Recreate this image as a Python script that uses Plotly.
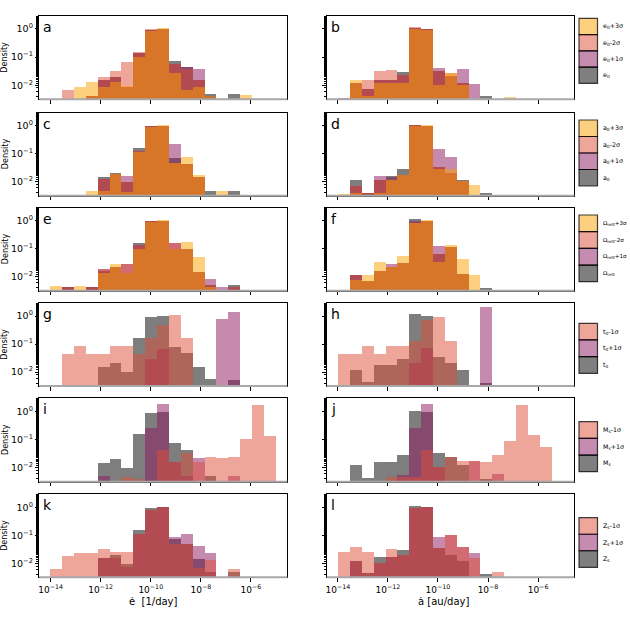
import numpy as np
import plotly.graph_objects as go

# log10 bin edges shared by every histogram
bin_edges = np.linspace(-14, -5, 20)

# densities per bin, one list per series (0 = empty bin)
a_e0 = [0, 0, 0, 0.004, 0.015, 0.02, 0.009, 0.14, 0.95, 1.0, 0.073, 0.046, 0.015, 0.0048, 0, 0.0049, 0, 0, 0]
a_e0_p1 = [0, 0, 0, 0.004, 0.015, 0.02, 0.009, 0.14, 0.95, 1.0, 0.057, 0.046, 0.039, 0.004, 0, 0, 0, 0, 0]
a_e0_m2 = [0, 0.0068, 0, 0.004, 0.019, 0.033, 0.066, 0.158, 1.0, 1.0, 0.057, 0.037, 0.0155, 0, 0, 0, 0, 0, 0]
a_e0_p3 = [0, 0, 0.0087, 0.0135, 0.0085, 0.0135, 0.0094, 0.104, 0.85, 1.05, 0.028, 0.007, 0.009, 0.004, 0, 0, 0.0045, 0, 0]

b_e0 = [0, 0.0125, 0.0074, 0.015, 0.0155, 0.029, 1.1, 1.0, 0.032, 0.021, 0.0117, 0, 0.0042, 0, 0, 0, 0, 0, 0]
b_e0_p1 = [0.0036, 0.0125, 0.0074, 0.015, 0.0155, 0.023, 1.1, 1.0, 0.04, 0.021, 0.037, 0.011, 0, 0, 0, 0, 0, 0, 0]
b_e0_m2 = [0, 0.0125, 0.0153, 0.031, 0.036, 0.023, 1.15, 1.0, 0.032, 0.027, 0.0117, 0, 0, 0, 0, 0, 0, 0, 0]
b_e0_p3 = [0, 0.015, 0.004, 0.012, 0.012, 0.012, 1.0, 0.95, 0.01, 0.027, 0.01, 0, 0, 0, 0.0038, 0, 0, 0, 0]

c_a0 = [0, 0, 0, 0, 0.0147, 0.021, 0.0097, 0.158, 1.0, 1.0, 0.073, 0.044, 0.0148, 0.0049, 0, 0.0049, 0, 0, 0]
c_a0_p1 = [0, 0, 0, 0, 0.0128, 0.0194, 0.017, 0.126, 1.0, 1.0, 0.225, 0.044, 0.0148, 0, 0, 0, 0, 0, 0]
c_a0_m2 = [0, 0, 0, 0, 0.0128, 0.0194, 0.0097, 0.126, 1.0, 1.0, 0.047, 0.044, 0.0148, 0, 0, 0, 0, 0, 0]
c_a0_p3 = [0, 0, 0, 0.0046, 0.0049, 0.0194, 0.0043, 0.12, 0.92, 1.05, 0.047, 0.077, 0.018, 0, 0.0049, 0, 0, 0, 0]

d_a0 = [0, 0.0118, 0.004, 0.0115, 0.016, 0.028, 1.05, 1.0, 0.034, 0.021, 0.012, 0, 0.004, 0, 0, 0, 0, 0, 0]
d_a0_p1 = [0, 0.007, 0.004, 0.0165, 0.0145, 0.018, 1.05, 1.0, 0.145, 0.077, 0.0106, 0, 0, 0, 0, 0, 0, 0, 0]
d_a0_m2 = [0, 0.007, 0.004, 0.0115, 0.0115, 0.018, 1.05, 1.0, 0.034, 0.021, 0.0106, 0, 0, 0, 0, 0, 0, 0, 0]
d_a0_p3 = [0.0038, 0.004, 0, 0.004, 0.0115, 0.018, 1.0, 1.05, 0.028, 0.030, 0.0106, 0.0076, 0, 0, 0, 0, 0, 0, 0]

e_om0 = [0, 0.0043, 0, 0.0043, 0.016, 0.023, 0.0143, 0.163, 1.0, 1.0, 0.1, 0.1, 0.015, 0.0052, 0, 0.005, 0, 0, 0]
e_om0_p1 = [0, 0.0043, 0, 0.0043, 0.0185, 0.023, 0.028, 0.142, 1.0, 1.0, 0.163, 0.1, 0.015, 0.0087, 0.0043, 0.0045, 0, 0, 0]
e_om0_m2 = [0, 0.0043, 0, 0.0043, 0.0185, 0.023, 0.028, 0.142, 1.0, 1.0, 0.163, 0.1, 0.015, 0.0052, 0, 0.0045, 0, 0, 0]
e_om0_p3 = [0.0047, 0, 0.0047, 0, 0.0143, 0.029, 0.0143, 0.10, 0.95, 1.09, 0.10, 0.177, 0.053, 0.0043, 0, 0, 0, 0, 0]

f_om0 = [0, 0.012, 0.007, 0.016, 0.023, 0.031, 1.2, 1.0, 0.065, 0.113, 0.0125, 0, 0.0041, 0, 0, 0, 0, 0, 0]
f_om0_p1 = [0, 0.012, 0.007, 0.016, 0.029, 0.031, 1.0, 1.0, 0.123, 0.113, 0.0125, 0, 0.0035, 0, 0, 0, 0, 0, 0]
f_om0_m2 = [0, 0.012, 0.007, 0.016, 0.023, 0.031, 0.87, 1.0, 0.065, 0.113, 0.0125, 0, 0.0035, 0, 0, 0, 0, 0, 0]
f_om0_p3 = [0.0035, 0.0075, 0.0115, 0.035, 0.023, 0.056, 0.87, 1.09, 0.035, 0.142, 0.044, 0.0115, 0, 0, 0, 0, 0, 0, 0]

g_t0 = [0, 0, 0, 0, 0.015, 0.020, 0.010, 0.158, 0.92, 1.0, 0.077, 0.045, 0.015, 0.0053, 0, 0.005, 0, 0, 0]
g_t0_p1 = [0, 0, 0, 0, 0, 0, 0, 0, 0.028, 0.067, 0, 0, 0, 0, 0.80, 1.39, 0, 0, 0]
g_t0_m1 = [0, 0.042, 0.083, 0.042, 0.042, 0.083, 0.083, 0.042, 0.167, 0.47, 1.05, 0.167, 0, 0, 0, 0, 0, 0, 0]

h_t0 = [0, 0.012, 0.0043, 0.017, 0.017, 0.029, 1.15, 1.0, 0.034, 0.021, 0.012, 0, 0.004, 0, 0, 0, 0, 0, 0]
h_t0_p1 = [0, 0, 0, 0, 0, 0, 0.02, 0.069, 0, 0, 0, 0, 2.16, 0, 0, 0, 0, 0, 0]
h_t0_m1 = [0.042, 0.042, 0.083, 0.042, 0.083, 0.083, 0.126, 0.70, 0.92, 0.126, 0, 0, 0, 0, 0, 0, 0, 0, 0]

i_m0 = [0, 0, 0, 0, 0.0147, 0.019, 0.0098, 0.148, 0.83, 0.9, 0.075, 0.041, 0, 0.0049, 0, 0, 0, 0, 0]
i_m0_p1 = [0, 0, 0, 0, 0.0049, 0, 0, 0, 0.24, 1.72, 0.016, 0.005, 0.021, 0, 0, 0.005, 0, 0, 0]
i_m0_m1 = [0, 0, 0, 0, 0, 0, 0.0044, 0.0037, 0, 0.041, 0.016, 0.031, 0.015, 0.023, 0.021, 0.024, 0.10, 1.63, 0.133]

j_m0 = [0, 0.012, 0.0041, 0.016, 0.016, 0.027, 1.0, 0.9, 0.031, 0.023, 0.012, 0, 0.0037, 0, 0, 0, 0, 0, 0]
j_m0_p1 = [0, 0, 0, 0, 0, 0.0053, 0.255, 1.77, 0.01, 0, 0, 0.0168, 0, 0.0056, 0, 0, 0, 0, 0]
j_m0_m1 = [0, 0, 0, 0, 0.0044, 0.0044, 0.0044, 0.041, 0.01, 0.023, 0.0168, 0.0168, 0.016, 0.027, 0.088, 1.63, 0.14, 0.054, 0]

k_z0 = [0, 0, 0, 0, 0.0147, 0.0194, 0.0095, 0.15, 0.9, 1.0, 0.072, 0.046, 0.014, 0.0047, 0, 0.0049, 0, 0, 0]
k_z0_p1 = [0, 0, 0, 0, 0.0147, 0.0147, 0.0074, 0.106, 0.78, 1.0, 0.087, 0.106, 0.042, 0.0234, 0, 0, 0, 0, 0]
k_z0_m1 = [0.0059, 0.018, 0.0234, 0.0234, 0.031, 0.025, 0.025, 0.106, 0.78, 1.0, 0.046, 0.046, 0.0065, 0.0129, 0, 0.006, 0, 0, 0]

l_z0 = [0, 0.0118, 0.0043, 0.0159, 0.0159, 0.029, 1.1, 1.0, 0.034, 0.020, 0.0118, 0, 0.0039, 0, 0, 0, 0, 0, 0]
l_z0_p1 = [0, 0.0118, 0.0043, 0.0098, 0.0159, 0.02, 0.9, 1.0, 0.083, 0.1, 0.038, 0.0234, 0, 0, 0, 0, 0, 0, 0]
l_z0_m1 = [0.025, 0.036, 0.025, 0.0098, 0.0316, 0.02, 0.9, 1.03, 0.034, 0.1, 0.038, 0.0155, 0, 0.0049, 0, 0, 0, 0, 0]

x_tick_vals = [-14, -12, -10, -8, -6]
x_tick_text = ["10<sup>\u221214</sup>", "10<sup>\u221212</sup>", "10<sup>\u221210</sup>",
               "10<sup>\u22128</sup>", "10<sup>\u22126</sup>"]
y_tick_vals = [1, 0.1, 0.01]
y_tick_text = ["10<sup>0</sup>", "10<sup>\u22121</sup>", "10<sup>\u22122</sup>"]

GRAY = "rgb(0,0,0)"
PURPLE = "rgb(141,23,97)"
SALMON = "rgb(221,77,55)"
ORANGE = "rgb(251,161,0)"

# (label, [(series, colour)] in drawing order)
panels = [
    ("a", [(a_e0, GRAY), (a_e0_p1, PURPLE), (a_e0_m2, SALMON), (a_e0_p3, ORANGE)]),
    ("b", [(b_e0, GRAY), (b_e0_p1, PURPLE), (b_e0_m2, SALMON), (b_e0_p3, ORANGE)]),
    ("c", [(c_a0, GRAY), (c_a0_p1, PURPLE), (c_a0_m2, SALMON), (c_a0_p3, ORANGE)]),
    ("d", [(d_a0, GRAY), (d_a0_p1, PURPLE), (d_a0_m2, SALMON), (d_a0_p3, ORANGE)]),
    ("e", [(e_om0, GRAY), (e_om0_p1, PURPLE), (e_om0_m2, SALMON), (e_om0_p3, ORANGE)]),
    ("f", [(f_om0, GRAY), (f_om0_p1, PURPLE), (f_om0_m2, SALMON), (f_om0_p3, ORANGE)]),
    ("g", [(g_t0, GRAY), (g_t0_p1, PURPLE), (g_t0_m1, SALMON)]),
    ("h", [(h_t0, GRAY), (h_t0_p1, PURPLE), (h_t0_m1, SALMON)]),
    ("i", [(i_m0, GRAY), (i_m0_p1, PURPLE), (i_m0_m1, SALMON)]),
    ("j", [(j_m0, GRAY), (j_m0_p1, PURPLE), (j_m0_m1, SALMON)]),
    ("k", [(k_z0, GRAY), (k_z0_p1, PURPLE), (k_z0_m1, SALMON)]),
    ("l", [(l_z0, GRAY), (l_z0_p1, PURPLE), (l_z0_m1, SALMON)]),
]

# legends next to the right-hand panels: (top px, bottom px, font size, [(text, colour)] top to bottom)
legends = [
    (18.3, 83.3, 6.3, [("e<sub>0</sub>+3\u03c3", ORANGE), ("e<sub>0</sub>-2\u03c3", SALMON),
                       ("e<sub>0</sub>+1\u03c3", PURPLE), ("e<sub>0</sub>", GRAY)]),
    (120, 186, 6.3, [("a<sub>0</sub>+3\u03c3", ORANGE), ("a<sub>0</sub>-2\u03c3", SALMON),
                     ("a<sub>0</sub>+1\u03c3", PURPLE), ("a<sub>0</sub>", GRAY)]),
    (215, 281.7, 5.6, [("\u03a9<sub>rel0</sub>+3\u03c3", ORANGE), ("\u03a9<sub>rel0</sub>-2\u03c3", SALMON),
                       ("\u03a9<sub>rel0</sub>+1\u03c3", PURPLE), ("\u03a9<sub>rel0</sub>", GRAY)]),
    (323.3, 373.3, 6.3, [("t<sub>0</sub>-1\u03c3", SALMON), ("t<sub>0</sub>+1\u03c3", PURPLE), ("t<sub>0</sub>", GRAY)]),
    (421.7, 471.7, 6.3, [("M<sub>s</sub>-1\u03c3", SALMON), ("M<sub>s</sub>+1\u03c3", PURPLE), ("M<sub>s</sub>", GRAY)]),
    (517.7, 567.3, 6.3, [("Z<sub>s</sub>-1\u03c3", SALMON), ("Z<sub>s</sub>+1\u03c3", PURPLE), ("Z<sub>s</sub>", GRAY)]),
]

W = H = 630
FONT = "DejaVu Sans"
col_x = [(39.3, 287.3), (326.7, 574.3)]
row_y = [(16, 99.3), (112.7, 195.7), (207.7, 290.7), (303.3, 386), (398.3, 481.7), (494.3, 577.3)]


def rgba(rgb, a):
    return rgb.replace("rgb(", "rgba(").replace(")", f",{a})")


centers = (bin_edges[:-1] + bin_edges[1:]) / 2
bin_width = bin_edges[1] - bin_edges[0]

fig = go.Figure()
layout = {}
annotations = []
shapes = []

for k, (label, series) in enumerate(panels):
    n = k + 1
    row, col = divmod(k, 2)
    sfx = "" if n == 1 else str(n)
    for vals, color in series:
        fig.add_trace(go.Bar(
            x=centers, y=[v if v > 0 else None for v in vals], width=bin_width,
            marker=dict(color=color, line=dict(width=0)), opacity=0.5,
            xaxis="x" + sfx, yaxis="y" + sfx, showlegend=False, hoverinfo="skip",
        ))
    x0, x1 = col_x[col]
    t, b = row_y[row]
    bottom_row = row == 5
    layout["xaxis" + sfx] = dict(
        domain=[x0 / W, x1 / W], anchor="y" + sfx, range=[-14.45, -4.55],
        tickmode="array", tickvals=x_tick_vals, ticktext=x_tick_text,
        showticklabels=bottom_row, ticks="outside", ticklen=3.5, tickwidth=0.8,
        tickcolor="black", showline=True, linecolor="black", linewidth=1, mirror=True,
        showgrid=False, zeroline=False, tickfont=dict(size=9, color="black"),
    )
    layout["yaxis" + sfx] = dict(
        domain=[1 - b / H, 1 - t / H], anchor="x" + sfx, type="log", range=[-2.5, 0.46],
        tickmode="array", tickvals=y_tick_vals, ticktext=y_tick_text,
        showticklabels=(col == 0), ticks="outside", ticklen=3.5, tickwidth=0.8,
        tickcolor="black", showline=True, linecolor="black", linewidth=1, mirror=True,
        showgrid=False, zeroline=False, tickfont=dict(size=9.5, color="black"),
        minor=dict(ticks="outside", ticklen=2, tickwidth=0.6, tickcolor="black", showgrid=False),
    )
    shapes.append(dict(type="line", xref=f"x{sfx} domain", yref=f"y{sfx} domain",
                       x0=0, x1=1, y0=0, y1=0, line=dict(color="#a8a8a8", width=2)))
    annotations.append(dict(text=label, xref=f"x{sfx} domain", yref=f"y{sfx} domain",
                            x=0.008, y=0.99, xanchor="left", yanchor="top", showarrow=False,
                            font=dict(size=14, color="black", family=FONT)))
    if col == 0:
        annotations.append(dict(text="Density", xref="paper", yref="paper",
                                x=5 / W, y=1 - (t + b) / 2 / H, xanchor="center", yanchor="middle",
                                textangle=-90, showarrow=False,
                                font=dict(size=8, color="black", family=FONT)))

annotations.append(dict(text="\u0117  [1/day]", xref="paper", yref="paper", x=153 / W, y=1 - 601 / H,
                        xanchor="center", yanchor="middle", showarrow=False,
                        font=dict(size=10, color="black", family=FONT)))
annotations.append(dict(text="\u0227 [au/day]", xref="paper", yref="paper", x=443 / W, y=1 - 601 / H,
                        xanchor="center", yanchor="middle", showarrow=False,
                        font=dict(size=10, color="black", family=FONT)))

for top, bot, fsize, items in legends:
    step = (bot - top) / len(items)
    for m, (text, color) in enumerate(items):
        y0 = top + m * step
        shapes.append(dict(type="rect", xref="paper", yref="paper",
                           x0=579 / W, x1=597.5 / W, y0=1 - (y0 + step) / H, y1=1 - y0 / H,
                           fillcolor=rgba(color, 0.5), line=dict(color="rgba(0,0,0,0.75)", width=1.2)))
        annotations.append(dict(text=text, xref="paper", yref="paper", x=600.5 / W,
                                y=1 - (y0 + step / 2) / H, xanchor="left", yanchor="middle",
                                showarrow=False, font=dict(size=fsize, color="black", family=FONT)))

fig.update_layout(
    width=W, height=H, margin=dict(l=0, r=0, t=0, b=0), barmode="overlay", bargap=0,
    plot_bgcolor="white", paper_bgcolor="white", font=dict(family=FONT, color="black"),
    annotations=annotations, shapes=shapes, **layout,
)

fig.write_html("out.html", config={"displayModeBar": False},
               post_script="document.body.style.margin='0';")
